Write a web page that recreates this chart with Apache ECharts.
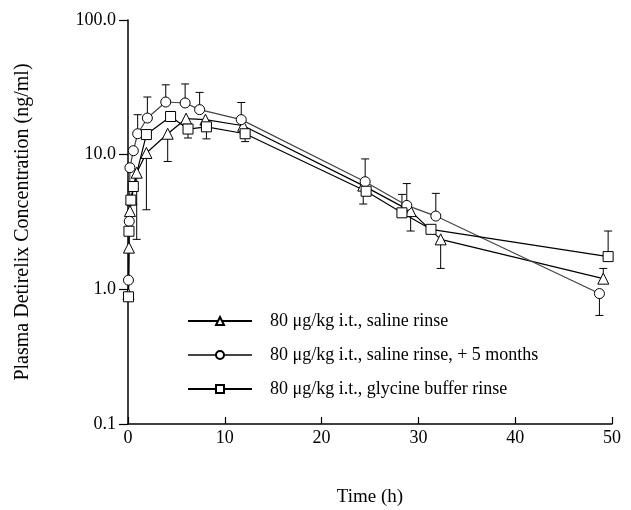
<!DOCTYPE html>
<html>
<head>
<meta charset="utf-8">
<script src="https://cdn.jsdelivr.net/npm/echarts@6/dist/echarts.min.js"></script>
<style>html,body{margin:0;padding:0;background:#fff;}#c{width:631px;height:510px;}</style>
</head>
<body>
<div id="c"></div>
<script>
// Series names
const seriesNames = [
  '80 \u03bcg/kg i.t., saline rinse',
  '80 \u03bcg/kg i.t., saline rinse, + 5 months',
  '80 \u03bcg/kg i.t., glycine buffer rinse'
];
// Saline rinse (triangles)
const triTimes  = [0.05, 0.1, 0.2, 0.35, 0.9, 1.9, 4.1, 6.0, 8.0, 11.9, 24.3, 29.2, 32.3, 49.1];
const triValues = [0.92, 2.04, 3.81, 4.66, 7.35, 10.3, 14.3, 18.5, 18.2, 16.4, 5.89, 3.81, 2.35, 1.2];
// Saline rinse + 5 months (circles)
const cirTimes  = [0.05, 0.13, 0.2, 0.55, 1.0, 2.0, 3.9, 5.9, 7.4, 11.7, 24.5, 28.8, 31.8, 48.7];
const cirValues = [1.17, 3.2, 8.0, 10.7, 14.3, 18.7, 24.6, 24.2, 21.6, 18.2, 6.3, 4.2, 3.5, 0.93];
// Glycine buffer rinse (squares)
const sqTimes  = [0.05, 0.1, 0.3, 0.55, 1.9, 4.4, 6.2, 8.1, 12.1, 24.6, 28.3, 31.3, 49.6];
const sqValues = [0.88, 2.7, 4.6, 5.8, 14.1, 19.2, 15.5, 16.1, 14.3, 5.35, 3.7, 2.79, 1.75];
// Error bars: [time, mean, bound]
const triErr = [[0.9, 7.35, 2.35], [1.9, 10.3, 3.9], [4.1, 14.3, 8.9], [24.3, 5.89, 4.3], [29.2, 3.81, 2.71], [32.3, 2.35, 1.43], [49.1, 1.2, 1.43]];
const cirErr = [[1.0, 14.3, 19.8], [2.0, 18.7, 26.8], [3.9, 24.6, 33], [5.9, 24.2, 33.5], [7.4, 21.6, 29], [11.7, 18.2, 24.4], [24.5, 6.3, 9.3], [28.8, 4.2, 6.1], [31.8, 3.5, 5.16], [48.7, 0.93, 0.64]];
const sqErr  = [[6.2, 15.5, 13.3], [8.1, 16.1, 13.1], [12.1, 14.3, 12.5], [28.3, 3.7, 5.07], [49.6, 1.75, 2.71]];
// Axis ticks
const yTicks = [0.1, 1, 10, 100];
const xTicks = [0, 10, 20, 30, 40, 50];

const font = 'Liberation Serif';
const zip = (t, v) => t.map((x, i) => [x, v[i]]);

function errSeries(data) {
  return {
    type: 'custom',
    z: 1,
    silent: true,
    data: data,
    renderItem: function (params, api) {
      const p1 = api.coord([api.value(0), api.value(1)]);
      const p2 = api.coord([api.value(0), api.value(2)]);
      const s = {stroke: '#000', lineWidth: 1};
      return {
        type: 'group',
        children: [
          {type: 'line', shape: {x1: p1[0], y1: p1[1], x2: p2[0], y2: p2[1]}, style: s},
          {type: 'line', shape: {x1: p2[0] - 4, y1: p2[1], x2: p2[0] + 4, y2: p2[1]}, style: s}
        ]
      };
    }
  };
}

function lineSeries(name, data, symbol, color) {
  return {
    name: name,
    type: 'line',
    z: 3,
    data: data,
    symbol: symbol,
    symbolSize: symbol === 'triangle' ? 11 : 10,
    showAllSymbol: true,
    lineStyle: {color: color, width: 1.2},
    itemStyle: {color: '#fff', borderColor: '#000', borderWidth: 1},
    emphasis: {disabled: true}
  };
}

const chart = echarts.init(document.getElementById('c'), null, {renderer: 'canvas'});
chart.setOption({
  animation: false,
  backgroundColor: '#fff',
  grid: {left: 128, right: 19, top: 20, bottom: 86, containLabel: false, outerBoundsMode: 'none'},
  legend: {
    orient: 'vertical',
    left: 182,
    top: 307,
    itemGap: 16,
    itemWidth: 64,
    itemHeight: 10,
    textStyle: {fontFamily: font, fontSize: 18, color: '#000', padding: [0, 0, 0, 13]},
    data: seriesNames
  },
  xAxis: {
    type: 'value',
    min: 0, max: 50, interval: 10,
    name: 'Time (h)',
    nameLocation: 'middle',
    nameGap: 64,
    nameTextStyle: {fontFamily: font, fontSize: 19, color: '#000'},
    axisLine: {lineStyle: {color: '#000', width: 1.5}},
    axisTick: {inside: true, length: 7, lineStyle: {color: '#000', width: 1.2}},
    axisLabel: {fontFamily: font, fontSize: 18, color: '#000', margin: 5,
      formatter: v => xTicks.includes(v) ? String(v) : ''},
    splitLine: {show: false}
  },
  yAxis: {
    type: 'log',
    logBase: 10,
    min: yTicks[0], max: yTicks[yTicks.length - 1],
    name: 'Plasma Detirelix Concentration (ng/ml)',
    nameLocation: 'middle',
    nameGap: 95,
    nameTextStyle: {fontFamily: font, fontSize: 20, color: '#000'},
    axisLine: {lineStyle: {color: '#000', width: 1.5}},
    axisTick: {length: 9, lineStyle: {color: '#000', width: 1.2}},
    axisLabel: {fontFamily: font, fontSize: 18, color: '#000', margin: 12,
      formatter: v => v.toFixed(1)},
    splitLine: {show: false}
  },
  series: [
    errSeries(triErr), errSeries(cirErr), errSeries(sqErr),
    lineSeries(seriesNames[0], zip(triTimes, triValues), 'triangle', '#000'),
    lineSeries(seriesNames[1], zip(cirTimes, cirValues), 'circle', '#444'),
    lineSeries(seriesNames[2], zip(sqTimes, sqValues), 'rect', '#000')
  ]
});
</script>
</body>
</html>
